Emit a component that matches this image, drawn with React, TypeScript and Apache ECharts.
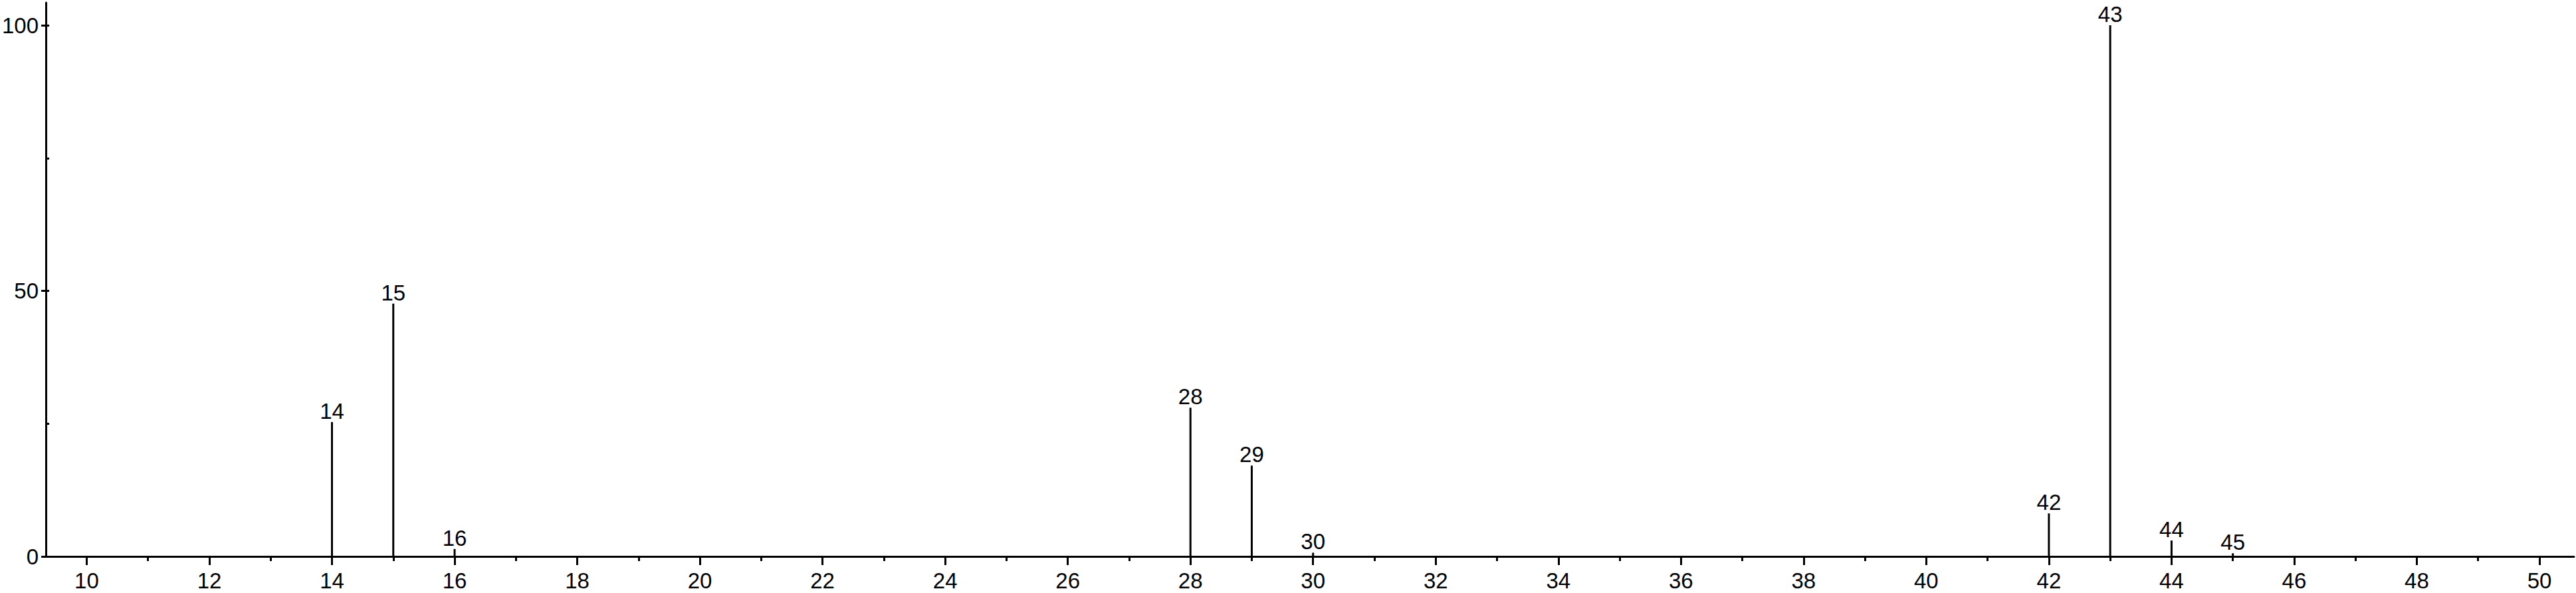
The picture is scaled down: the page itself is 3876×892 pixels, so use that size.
import React, { useEffect, useRef } from "react";
import * as echarts from "echarts";

// m/z values of the peaks and their relative intensities
const mzValues = [14, 15, 16, 28, 29, 30, 42, 43, 44, 45];
const intensities = [25.3, 47.6, 1.4, 28.0, 17.1, 0.7, 8.1, 100, 3.0, 0.6];

// axis tick definitions
const xTickMin = 10;
const xTickMax = 50;
const xTickInterval = 2;
const yTickMin = 0;
const yTickMax = 100;
const yTickInterval = 50;

// extent of the drawn axis lines (beyond the labelled range)
const xLineMin = 9.39;
const xLineMax = 50.56;
const yLineMax = 104.3;

const FONT = '"Liberation Sans", Arial, Helvetica, sans-serif';

export default function App() {
  const ref = useRef<HTMLDivElement>(null);

  useEffect(() => {
    if (!ref.current) return;
    const chart = echarts.init(ref.current, undefined, { renderer: "svg" });
    const data = mzValues.map((m, i) => [m, intensities[i]]);

    chart.setOption({
      animation: false,
      backgroundColor: "#ffffff",
      grid: [
        { left: 69, right: 3, top: 4, bottom: 55 },
        { left: 125.4, right: 55, top: 38, bottom: 55 },
      ],
      xAxis: [
        {
          type: "value",
          gridIndex: 0,
          min: xLineMin,
          max: xLineMax,
          axisLine: { show: true, lineStyle: { color: "#000", width: 3 } },
          axisTick: { show: false },
          axisLabel: { show: false },
          splitLine: { show: false },
        },
        {
          type: "value",
          gridIndex: 1,
          min: xTickMin,
          max: xTickMax,
          interval: xTickInterval,
          axisLine: { show: false },
          axisTick: { show: true, length: 13, lineStyle: { color: "#000", width: 3 } },
          minorTick: { show: true, splitNumber: 2, length: 7, lineStyle: { color: "#000", width: 3 } },
          axisLabel: { show: true, color: "#000", fontSize: 33, fontFamily: FONT, margin: 20 },
          splitLine: { show: false },
          minorSplitLine: { show: false },
        },
      ],
      yAxis: [
        {
          type: "value",
          gridIndex: 0,
          min: 0,
          max: yLineMax,
          axisLine: { show: true, lineStyle: { color: "#000", width: 3 } },
          axisTick: { show: false },
          axisLabel: { show: false },
          splitLine: { show: false },
        },
        {
          type: "value",
          gridIndex: 1,
          min: yTickMin,
          max: yTickMax,
          interval: yTickInterval,
          offset: 56.4,
          axisLine: { show: false },
          axisTick: { show: true, length: 12, lineStyle: { color: "#000", width: 3 } },
          minorTick: { show: true, splitNumber: 2, length: 6, lineStyle: { color: "#000", width: 3 } },
          axisLabel: { show: true, color: "#000", fontSize: 33, fontFamily: FONT, margin: 16 },
          splitLine: { show: false },
          minorSplitLine: { show: false },
        },
      ],
      series: [
        {
          type: "custom",
          xAxisIndex: 1,
          yAxisIndex: 1,
          clip: false,
          data,
          renderItem: (params: any, api: any) => {
            const x = api.value(0);
            const y = api.value(1);
            const top = api.coord([x, y]);
            const base = api.coord([x, 0]);
            return {
              type: "group",
              children: [
                {
                  type: "line",
                  shape: { x1: top[0], y1: top[1], x2: base[0], y2: base[1] },
                  style: { stroke: "#000", lineWidth: 3 },
                },
                {
                  type: "text",
                  x: top[0],
                  y: top[1],
                  style: {
                    text: String(x),
                    font: `33px ${FONT}`,
                    fill: "#000",
                    align: "center",
                    verticalAlign: "bottom",
                  },
                },
              ],
            };
          },
        },
      ],
    });

    return () => chart.dispose();
  }, []);

  return (
    <div
      ref={ref}
      style={{ position: "fixed", left: 0, top: 0, width: 3876, height: 892, background: "#fff" }}
    />
  );
}
